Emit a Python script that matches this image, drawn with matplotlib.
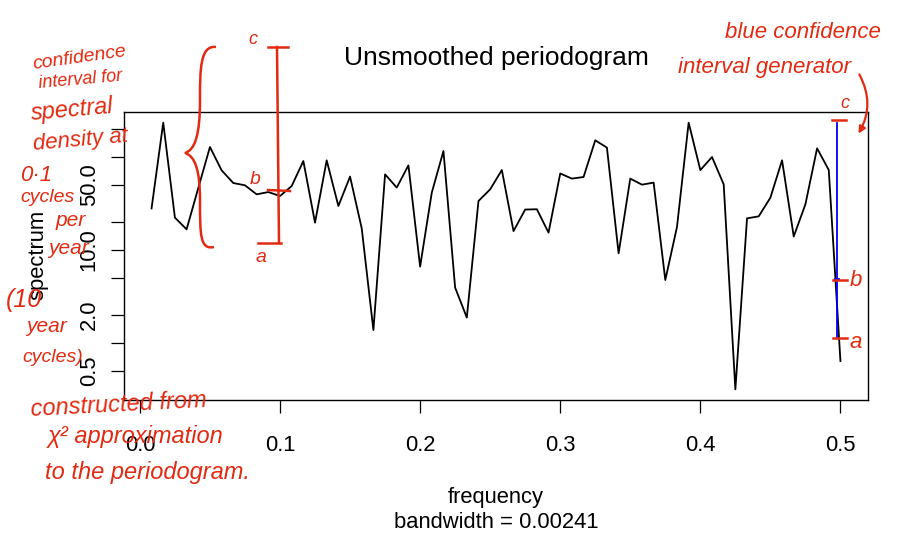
import numpy as np
import matplotlib.pyplot as plt
from matplotlib.path import Path
from matplotlib.patches import PathPatch

plt.rcParams['font.family'] = ['Liberation Sans', 'DejaVu Sans']

# raw periodogram of a 120-point yearly series (frequency k/120)
n_obs = 120
bandwidth = 0.00241
freq = [k / n_obs for k in range(1, 61)]
spec = [27.9, 233, 22.2, 16.6, 46.1, 127.5, 71.6, 52.3, 49.4, 39.5,
        41.8, 37.9, 48.5, 90.1, 19.6, 91.7, 29.6, 61.3, 17.0, 1.37,
        64.8, 46.7, 81.0, 6.60, 41.2, 115.5, 3.92, 1.87, 33.5, 44.7,
        72.1, 15.9, 27.1, 27.3, 15.3, 66.2, 58.3, 60.7, 150.5, 125.6,
        9.17, 58.3, 50.2, 52.8, 4.73, 17.6, 233, 72.0, 99.5, 50.6,
        0.316, 21.8, 22.9, 36.4, 91.7, 13.9, 30.9, 123.4, 72.1, 0.637]

# confidence bar (lower, centre, upper)
ci_bar = [1.12, 4.82, 233]

x_ticks = [0.0, 0.1, 0.2, 0.3, 0.4, 0.5]
y_ticks = [0.5, 1, 2, 5, 10, 20, 50, 100, 200]
y_tick_labels = ['0.5', '', '2.0', '', '10.0', '', '50.0', '', '']

red = '#e22a12'
W, H = 900, 534


def pt(x, y):
    # pixel position -> figure fraction
    return (x / W, 1 - y / H)


fig = plt.figure(figsize=(9, 5.34), dpi=100)
ax = fig.add_axes([124 / W, 1 - 400 / H, 744 / W, 288 / H])

ax.plot(freq, spec, color='black', lw=1.3)

# blue confidence interval bar, R style (at max freq - bandwidth)
cx = max(freq) - bandwidth
ax.plot([cx, cx], [ci_bar[0], ci_bar[2]], color='blue', lw=1.3)
ax.plot([cx - bandwidth / 2, cx + bandwidth / 2], [ci_bar[1], ci_bar[1]], color='blue', lw=1.3)

ax.set_yscale('log')
# R pads the data range by 4%
xr = max(freq) - min(freq)
ax.set_xlim(min(freq) - 0.04 * xr, max(freq) + 0.04 * xr)
lo, hi = np.log10(min(spec)), np.log10(max(spec))
ax.set_ylim(10 ** (lo - 0.04 * (hi - lo)), 10 ** (hi + 0.04 * (hi - lo)))

ax.set_xticks(x_ticks)
ax.set_xticklabels(['%.1f' % v for v in x_ticks])
ax.set_yticks(y_ticks)
ax.set_yticklabels(y_tick_labels, rotation=90, va='center')
ax.yaxis.set_minor_locator(plt.NullLocator())
ax.tick_params(axis='both', direction='out', length=9.4, width=0.9, labelsize=15.8)
ax.tick_params(axis='x', pad=16)
ax.tick_params(axis='y', pad=8)
for s in ax.spines.values():
    s.set_linewidth(1.0)

fig.text(*pt(496, 58), 'Unsmoothed periodogram', ha='center', va='center', fontsize=19)
fig.text(*pt(496, 497), 'frequency', ha='center', va='center', fontsize=15.8)
fig.text(*pt(496, 522), 'bandwidth = 0.00241', ha='center', va='center', fontsize=15.8)
fig.text(*pt(38, 255), 'spectrum', ha='center', va='center', rotation=90, fontsize=15.8)

# handwritten notes
notes = [
    ('confidence', 32, 58, 14, 8),
    ('interval for', 38, 80, 13, 5),
    ('spectral', 30, 110, 17, 5),
    ('density at', 32, 140, 16, 5),
    ('0·1', 20, 176, 16, 0),
    ('cycles', 20, 197, 14, 0),
    ('per', 56, 220, 15, 0),
    ('year', 48, 248, 15, 0),
    ('(10', 6, 300, 18, 0),
    ('year', 26, 327, 15, 0),
    ('cycles)', 22, 357, 14, 0),
    ('constructed from', 30, 405, 17, 3),
    ('χ² approximation', 48, 437, 17, 0),
    ('to the periodogram.', 45, 472, 17, 0),
    ('blue confidence', 725, 32, 16, 0),
    ('interval generator', 678, 68, 16, 0),
    ('c', 248, 40, 13, 0),
    ('b', 250, 180, 14, 0),
    ('a', 256, 257, 14, 0),
    ('c', 840, 104, 13, 0),
    ('b', 850, 281, 16, 0),
    ('a', 849, 342, 16, 0),
]
for txt, x, y, fs, rot in notes:
    fig.text(*pt(x, y), txt, color=red, fontsize=fs, ha='left', va='center',
             rotation=rot, style='italic')

# curly brace
verts = [pt(216, 47), pt(200, 45), pt(200, 70), pt(200, 100),
         pt(200, 135), pt(195, 150), pt(185, 153),
         pt(195, 156), pt(200, 170), pt(200, 200),
         pt(200, 235), pt(200, 250), pt(214, 247)]
codes = [Path.MOVETO] + [Path.CURVE4] * 12
fig.add_artist(PathPatch(Path(verts, codes), fill=False, edgecolor=red, lw=1.8,
                         transform=fig.transFigure))

# interval marks drawn by hand
segs = [
    [(268, 47), (288, 47)], [(277, 47), (279, 243)], [(258, 243), (281, 243)],
    [(268, 190), (290, 191)],
    [(832, 120), (846, 120)], [(833, 280), (847, 280)], [(833, 338), (847, 338)],
]
for seg in segs:
    xs = [pt(*p)[0] for p in seg]
    ys = [pt(*p)[1] for p in seg]
    fig.add_artist(plt.Line2D(xs, ys, color=red, lw=1.8, transform=fig.transFigure))

ax.annotate('', xy=pt(857, 136), xytext=pt(858, 72), xycoords='figure fraction',
            textcoords='figure fraction',
            arrowprops=dict(arrowstyle='-|>', color=red, lw=1.6,
                            connectionstyle='arc3,rad=-0.3', fc='none'))

fig.savefig('out.png', dpi=100)
